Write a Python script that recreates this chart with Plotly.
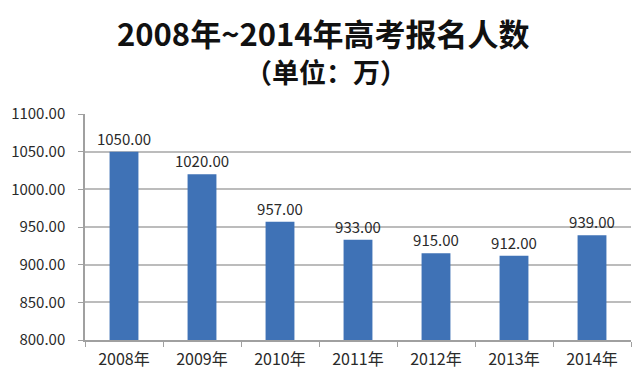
import plotly.graph_objects as go

years = ["2008年", "2009年", "2010年", "2011年", "2012年", "2013年", "2014年"]
applicants = [1050, 1020, 957, 933, 915, 912, 939]
title_main = "2008年~2014年高考报名人数"
title_sub = "（单位：万）"

font_fam = "Noto Sans CJK SC, Noto Sans, sans-serif"

# page has an 8px body margin; plot area in figure coords: x 77..623, y 106..332
L, T, R, B = 77, 106, 21, 45
plot_w = 644 - L - R
plot_h = 377 - T - B

fig = go.Figure()
fig.add_trace(go.Bar(
    x=years, y=applicants,
    marker=dict(color="#3f72b6", line=dict(width=0)),
    width=0.37,
    text=[f"{v:.2f}" for v in applicants],
    textposition="outside",
    constraintext="none",
    cliponaxis=False,
    textfont=dict(size=15, color="#2a2a2a", family=font_fam),
))

fig.update_layout(
    width=644, height=377,
    margin=dict(l=L, r=R, t=T, b=B),
    paper_bgcolor="white", plot_bgcolor="white",
    showlegend=False,
    font=dict(family=font_fam, color="#333333"),
)
fig.add_annotation(text="<b>" + title_main + "</b>", xref="paper", yref="paper",
                   x=(315 - L) / plot_w, y=1.0 + (T - 24) / plot_h, showarrow=False,
                   xanchor="center", yanchor="middle",
                   font=dict(size=31, color="#111111", family=font_fam))
fig.add_annotation(text="<b>" + title_sub + "</b>", xref="paper", yref="paper",
                   x=(318 - L) / plot_w, y=1.0 + (T - 63) / plot_h, showarrow=False,
                   xanchor="center", yanchor="middle",
                   font=dict(size=27, color="#111111", family=font_fam))

fig.update_yaxes(
    range=[800, 1100], dtick=50, tickformat=".2f",
    showgrid=True, gridcolor="#bcbcbc", gridwidth=1.5,
    showline=True, linecolor="#a0a0a0", linewidth=1.5,
    ticks="outside", ticklen=5, tickcolor="#a0a0a0",
    ticklabelstandoff=10,
    tickfont=dict(size=15, color="#2a2a2a", family=font_fam),
    zeroline=False, fixedrange=True, automargin=False,
)
fig.update_xaxes(
    showline=True, linecolor="#a0a0a0", linewidth=1.5,
    ticks="outside", ticklen=5, tickcolor="#a0a0a0", tickson="boundaries",
    ticklabelstandoff=4,
    tickfont=dict(size=16, color="#2a2a2a", family=font_fam),
    showgrid=False, automargin=False,
)

fig.write_html("out.html")
